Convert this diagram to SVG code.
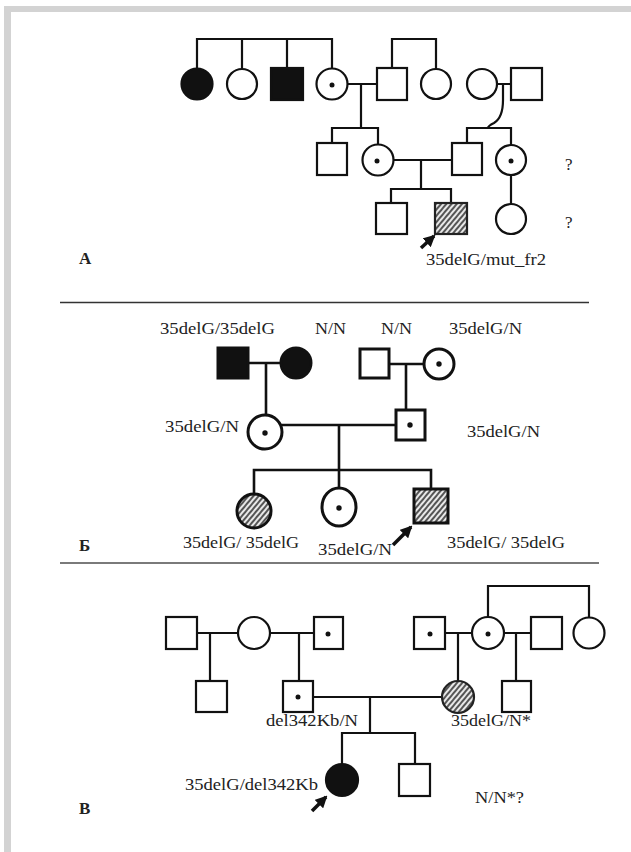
<svg xmlns="http://www.w3.org/2000/svg" width="631" height="852" viewBox="0 0 631 852">
<style>
.s{fill:#fff;stroke:#111;stroke-width:2.2}
.f{fill:#111;stroke:#111;stroke-width:2.2}
.h{fill:url(#hatch);stroke:#222;stroke-width:2.2}
.sb{fill:#fff;stroke:#111;stroke-width:3}
.fb{fill:#111;stroke:#111;stroke-width:3}
.hb{fill:url(#hatch);stroke:#111;stroke-width:3}
.dot{fill:#111;stroke:none}
.ln{fill:none;stroke:#111;stroke-width:2.2}
.lnb{fill:none;stroke:#111;stroke-width:2.6}
.ar{fill:none;stroke:#111;stroke-width:3.5;marker-end:url(#ah)}
text{font-family:"Liberation Serif","Times New Roman",serif;font-size:17px;fill:#222}
.lbl{font-weight:bold;font-size:17px}
</style>
<defs>
<pattern id="hatch" patternUnits="userSpaceOnUse" width="4" height="4" patternTransform="rotate(40)">
<rect width="4" height="4" fill="#e8e8e8"/>
<rect width="2" height="4" fill="#555"/>
</pattern>
<marker id="ah" markerUnits="userSpaceOnUse" markerWidth="12" markerHeight="12" viewBox="0 0 12 12" refX="10" refY="6" orient="auto">
<path d="M0,0 L12,6 L0,12 Z" fill="#111"/>
</marker>
</defs>
<rect x="0" y="0" width="631" height="852" fill="#fff"/>
<g id="frame">
<rect x="4" y="6" width="627" height="6" fill="#d3d3d3"/>
<rect x="4" y="6" width="7" height="846" fill="#d3d3d3"/>
<line x1="60" y1="302.5" x2="589" y2="302.5" stroke="#333" stroke-width="1.3"/>
<line x1="60" y1="563" x2="599" y2="563" stroke="#7a7a7a" stroke-width="2"/>
</g>
<g id="connectors">
<path class="ln" d="M197,68 V39 H332 V68 M242,39 V69 M287,39 V68"/>
<path class="ln" d="M392,68 V39 H436 V69"/>
<path class="ln" d="M348,84 H377 M361,84 V128 M332,143 V128 H378 V145"/>
<path class="ln" d="M497,84 H511 M503,84 V100 C503,114 499,120 494,123 C490,125 488,127 488,128 M467,143 V128 H511 V145"/>
<path class="ln" d="M393,160 H452 M421,160 V189 M391,203 V189 H451 V203"/>
<path class="ln" d="M511,175 V204"/>
<path class="ar" d="M421,248 L434,236"/>
<path class="lnb" d="M249,363 H280 M266,363 V415"/>
<path class="lnb" d="M389,364 H423 M406,364 V409"/>
<path class="lnb" d="M281,425 H395 M339,425 V470"/>
<path class="lnb" d="M254,494 V470 H431 V489 M339,470 V487"/>
<path class="ar" d="M393,545 L411,527"/>
<path class="ln" d="M197,633 H238 M210,633 V681"/>
<path class="ln" d="M270,633 H314 M299,633 V681"/>
<path class="ln" d="M445,633 H472 M458,633 V681"/>
<path class="ln" d="M504,633 H531 M516,633 V681"/>
<path class="ln" d="M488,617 V586 H589 V618"/>
<path class="ln" d="M313,697 H442 M370,697 V733 M342,764 V733 H415 V764"/>
<path class="ar" d="M312,811 L326,797"/>
</g>
<g id="A">
<g id="A1"><circle class="f" cx="197" cy="84" r="15.5"/></g>
<g id="A2"><circle class="s" cx="242" cy="84" r="15"/></g>
<g id="A3"><rect class="f" x="271" y="68" width="32" height="32"/></g>
<g id="A4"><circle class="s" cx="332" cy="84" r="15.5"/><circle class="dot" cx="332" cy="85" r="2.5"/></g>
<g id="A5"><rect class="s" x="377" y="68" width="30" height="32"/></g>
<g id="A6"><circle class="s" cx="436" cy="84" r="15"/></g>
<g id="A7"><circle class="s" cx="482" cy="84" r="15"/></g>
<g id="A8"><rect class="s" x="511" y="68" width="31" height="32"/></g>
<g id="A9"><rect class="s" x="317" y="143" width="30" height="32"/></g>
<g id="A10"><circle class="s" cx="378" cy="160" r="15.5"/><circle class="dot" cx="377" cy="161" r="2.5"/></g>
<g id="A11"><rect class="s" x="452" y="143" width="30" height="32"/></g>
<g id="A12"><circle class="s" cx="511" cy="160" r="15"/><circle class="dot" cx="511" cy="161" r="2.5"/></g>
<g id="A13"><rect class="s" x="376" y="203" width="31" height="31"/></g>
<g id="A14"><rect class="h" x="435" y="203" width="32" height="31"/></g>
<g id="A15"><circle class="s" cx="511" cy="219" r="15"/></g>
<text x="565" y="170">?</text>
<text x="565" y="228">?</text>
<text x="426" y="265" textLength="120" lengthAdjust="spacingAndGlyphs">35delG/mut_fr2</text>
<text class="lbl" x="79" y="264">А</text>
</g>
<g id="B">
<g id="B1"><rect class="fb" x="218" y="348" width="30" height="30"/></g>
<g id="B2"><circle class="fb" cx="296" cy="363" r="15"/></g>
<g id="B3"><rect class="sb" x="360" y="349" width="29" height="29"/></g>
<g id="B4"><circle class="sb" cx="439" cy="364" r="15"/><circle class="dot" cx="439" cy="364" r="2.7"/></g>
<g id="B5"><circle class="sb" cx="265" cy="432" r="17"/><circle class="dot" cx="265" cy="433" r="2.7"/></g>
<g id="B6"><rect class="sb" x="396" y="410" width="29" height="30"/><circle class="dot" cx="410" cy="425" r="2.7"/></g>
<g id="B7"><circle class="hb" cx="254" cy="511" r="17"/></g>
<g id="B8"><ellipse class="sb" cx="339" cy="507" rx="17" ry="19"/><circle class="dot" cx="339" cy="508" r="2.7"/></g>
<g id="B9"><rect class="hb" x="414" y="489" width="34" height="34"/></g>
<text x="160" y="334" textLength="115" lengthAdjust="spacingAndGlyphs">35delG/35delG</text>
<text x="315" y="334" textLength="31" lengthAdjust="spacingAndGlyphs">N/N</text>
<text x="381" y="334" textLength="31" lengthAdjust="spacingAndGlyphs">N/N</text>
<text x="449" y="334" textLength="73" lengthAdjust="spacingAndGlyphs">35delG/N</text>
<text x="165" y="432" textLength="74" lengthAdjust="spacingAndGlyphs">35delG/N</text>
<text x="467" y="437" textLength="73" lengthAdjust="spacingAndGlyphs">35delG/N</text>
<text x="183" y="548" textLength="116" lengthAdjust="spacingAndGlyphs">35delG/ 35delG</text>
<text x="318" y="555" textLength="74" lengthAdjust="spacingAndGlyphs">35delG/N</text>
<text x="447" y="548" textLength="118" lengthAdjust="spacingAndGlyphs">35delG/ 35delG</text>
<text class="lbl" x="79" y="551">Б</text>
</g>
<g id="C">
<g id="C1"><rect class="s" x="166" y="617" width="31" height="32"/></g>
<g id="C2"><circle class="s" cx="254" cy="633" r="16"/></g>
<g id="C3"><rect class="s" x="314" y="617" width="29" height="32"/><circle class="dot" cx="328" cy="634" r="2.5"/></g>
<g id="C4"><rect class="s" x="196" y="681" width="31" height="31"/></g>
<g id="C5"><rect class="s" x="283" y="681" width="30" height="31"/><circle class="dot" cx="298" cy="697" r="2.5"/></g>
<g id="C6"><rect class="s" x="414" y="617" width="31" height="32"/><circle class="dot" cx="430" cy="634" r="2.5"/></g>
<g id="C7"><circle class="s" cx="488" cy="633" r="16"/><circle class="dot" cx="488" cy="634" r="2.5"/></g>
<g id="C8"><rect class="s" x="531" y="617" width="31" height="32"/></g>
<g id="C9"><circle class="s" cx="589" cy="633" r="15.5"/></g>
<g id="C10"><circle class="h" cx="458" cy="697" r="16"/></g>
<g id="C11"><rect class="s" x="502" y="681" width="29" height="31"/></g>
<g id="C12"><circle class="f" cx="342" cy="780" r="16"/></g>
<g id="C13"><rect class="s" x="399" y="764" width="31" height="32"/></g>
<text x="266" y="726" textLength="92" lengthAdjust="spacingAndGlyphs">del342Kb/N</text>
<text x="451" y="726" textLength="80" lengthAdjust="spacingAndGlyphs">35delG/N*</text>
<text x="185" y="790" textLength="133" lengthAdjust="spacingAndGlyphs">35delG/del342Kb</text>
<text x="475" y="803" textLength="49" lengthAdjust="spacingAndGlyphs">N/N*?</text>
<text class="lbl" x="79" y="814">В</text>
</g>
</svg>
